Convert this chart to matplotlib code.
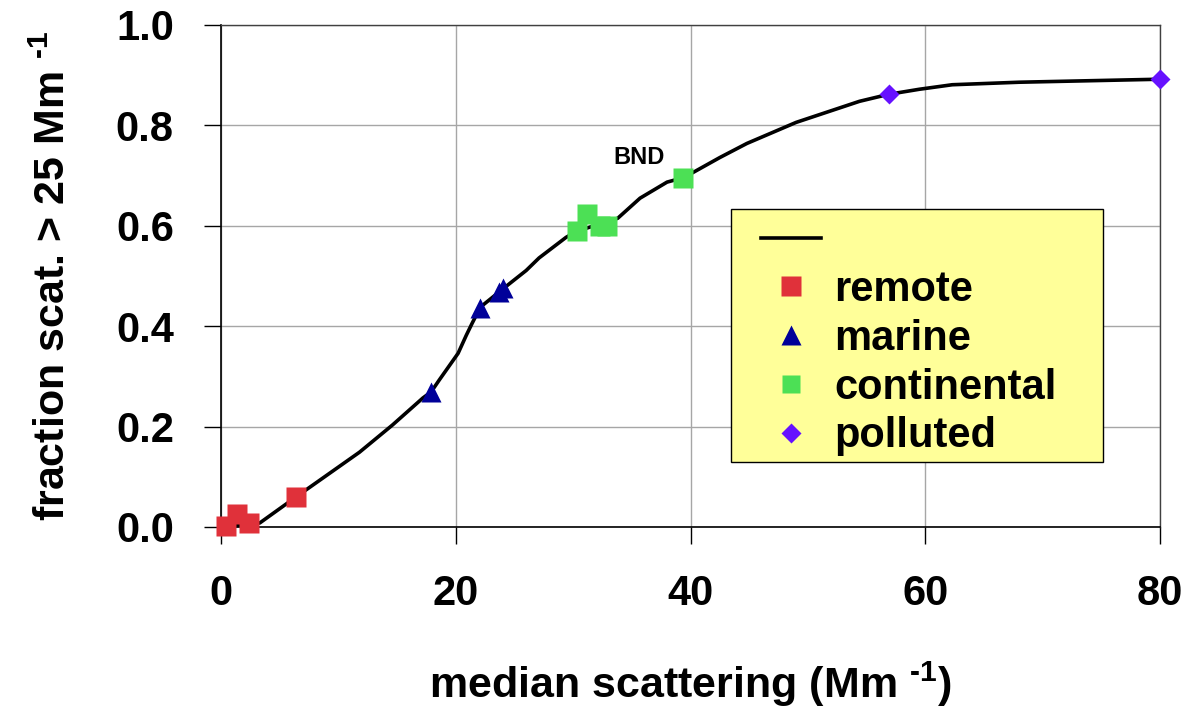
import matplotlib
matplotlib.use("Agg")
import matplotlib.pyplot as plt
from matplotlib.lines import Line2D
from matplotlib.patches import Rectangle

plt.rcParams["font.family"] = ["Liberation Sans", "DejaVu Sans"]
plt.rcParams["font.weight"] = "bold"
plt.rcParams["mathtext.fontset"] = "custom"
plt.rcParams["mathtext.rm"] = "Liberation Sans:bold"
plt.rcParams["mathtext.bf"] = "Liberation Sans:bold"

# fitted curve
curve_x = [0.5, 2.4, 3.3, 6.4, 11.8, 14.6, 17.2, 17.9, 18.6, 20.2, 20.9, 21.4, 22.1,
           24.0, 26.0, 27.1, 29.4, 30.3, 33.8, 35.7, 38.0, 39.4, 40.2, 42.5, 44.8,
           49.0, 54.4, 56.9, 59.5, 62.3, 68.0, 80.0]
curve_y = [0.0, 0.006, 0.008, 0.06, 0.149, 0.203, 0.257, 0.269, 0.293, 0.346, 0.382, 0.406, 0.438,
           0.474, 0.511, 0.536, 0.577, 0.589, 0.615, 0.655, 0.687, 0.696, 0.706, 0.736, 0.764,
           0.806, 0.848, 0.862, 0.872, 0.881, 0.886, 0.892]

remote_x = [0.4, 1.4, 2.4, 6.4]
remote_y = [0.002, 0.026, 0.008, 0.06]
marine_x = [17.9, 22.1, 23.7, 24.0]
marine_y = [0.268, 0.437, 0.468, 0.476]
continental_x = [30.3, 31.2, 32.3, 32.9, 39.4]
continental_y = [0.589, 0.623, 0.599, 0.599, 0.696]
polluted_x = [56.9, 80.0]
polluted_y = [0.862, 0.892]

x_ticks = [0, 20, 40, 60, 80]
y_ticks = [0.0, 0.2, 0.4, 0.6, 0.8, 1.0]

fig = plt.figure(figsize=(11.9, 7.11), dpi=100)
ax = fig.add_axes([221/1190, 1 - 527/711, 939/1190, 502/711])

ax.plot(curve_x, curve_y, color="black", lw=2.6, zorder=3, clip_on=False)
ax.plot(remote_x, remote_y, "s", ms=14.5, color="#E0313A", mec="none", zorder=4, clip_on=False)
ax.plot(marine_x, marine_y, "^", ms=15, color="#000099", mec="none", zorder=4, clip_on=False)
ax.plot(continental_x, continental_y, "s", ms=14.5, color="#4CE055", mec="none", zorder=4, clip_on=False)
ax.plot(polluted_x, polluted_y, "D", ms=10.5, color="#6611FF", mec="none", zorder=4, clip_on=False)

ax.text(35.6, 0.737, "BND", fontsize=17, fontweight="bold", ha="center", va="center")

ax.set_xlim(0, 80)
ax.set_ylim(0, 1.0)
ax.set_xticks(x_ticks)
ax.set_yticks(y_ticks)
ax.set_xticklabels([str(v) for v in x_ticks])
ax.set_yticklabels([f"{v:.1f}" for v in y_ticks])
ax.tick_params(axis="both", direction="out", length=12, width=1, labelsize=30, color="black")
ax.tick_params(axis="x", pad=22)
ax.tick_params(axis="y", pad=22)
for lab in ax.get_xticklabels() + ax.get_yticklabels():
    lab.set_fontweight("bold")

ax.grid(True, color="#a6a6a6", lw=1)
ax.set_axisbelow(True)
for s in ["left", "bottom"]:
    ax.spines[s].set_color("black")
    ax.spines[s].set_linewidth(1.2)
for s in ["top", "right"]:
    ax.spines[s].set_color("#404040")
    ax.spines[s].set_linewidth(1)

ax.set_xlabel(r"median scattering (Mm $^{\text{-1}}$)", fontsize=31, fontweight="bold", labelpad=33)
ax.set_ylabel(r"fraction scat. > 25 Mm $^{\text{-1}}$", fontsize=31, fontweight="bold", labelpad=30)

# legend box
ax.add_patch(Rectangle((0.5431, 0.1295), 0.3962, 0.504, transform=ax.transAxes,
                       facecolor="#FFFF99", edgecolor="black", lw=1, zorder=6))
handles = [
    Line2D([], [], color="black", lw=2.6),
    Line2D([], [], ls="none", marker="s", ms=14.5, color="#E0313A", mec="none"),
    Line2D([], [], ls="none", marker="^", ms=15, color="#000099", mec="none"),
    Line2D([], [], ls="none", marker="s", ms=13, color="#4CE055", mec="none"),
    Line2D([], [], ls="none", marker="D", ms=10.5, color="#6611FF", mec="none"),
]
labels = ["", "remote", "marine", "continental", "polluted"]
leg = ax.legend(handles, labels, loc="upper left", bbox_to_anchor=(0.5751, 0.609),
                frameon=False, borderpad=0, borderaxespad=0,
                handlelength=1.45, handletextpad=0.3, labelspacing=0.21,
                prop={"weight": "bold", "size": 30})
leg.set_zorder(7)

fig.savefig("out.png", dpi=100)
